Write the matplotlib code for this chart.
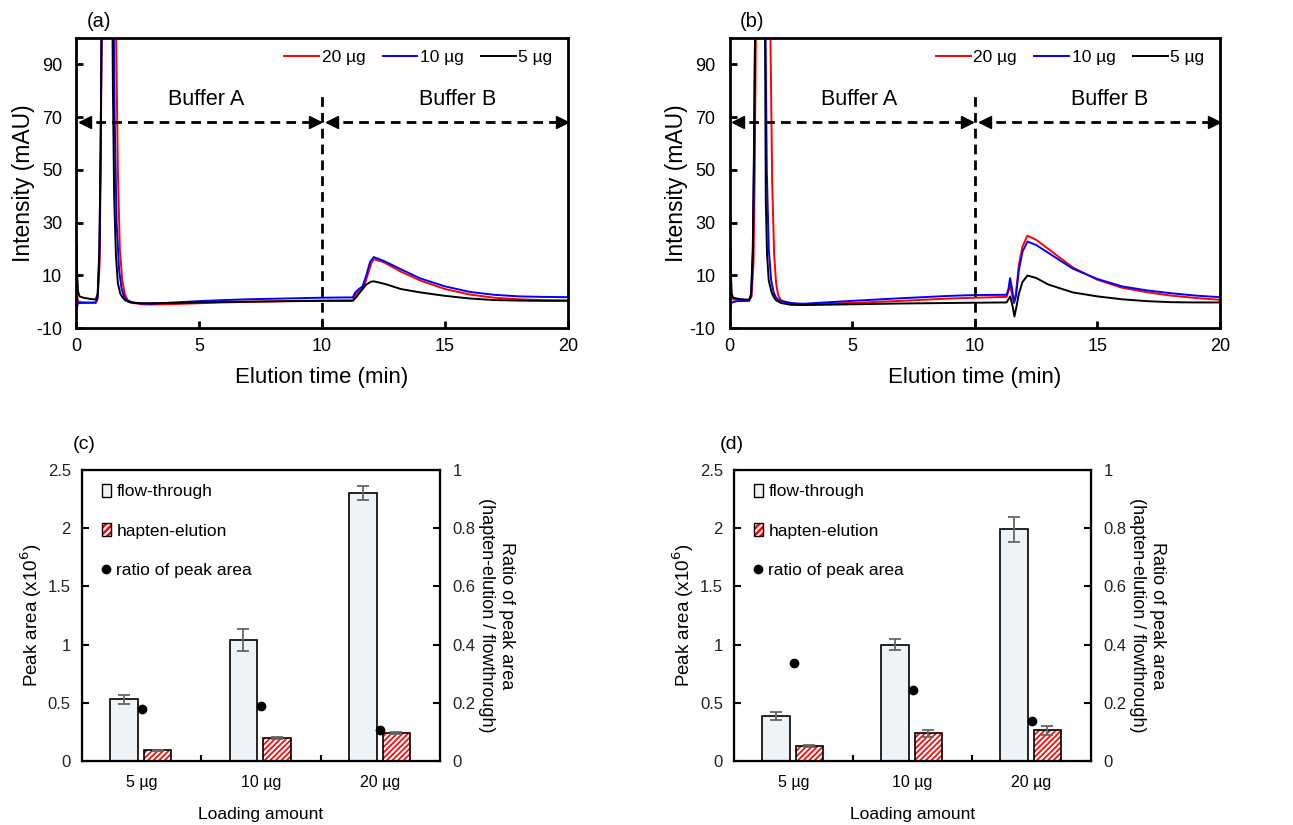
#!/usr/bin/env python3
"""Chromatograms (a)(b) and peak-area bar charts (c)(d) for three loading amounts."""

import matplotlib
matplotlib.use("Agg")
import matplotlib.pyplot as plt
from matplotlib.legend_handler import HandlerTuple
from matplotlib.lines import Line2D
from matplotlib.patches import Patch
from matplotlib.ticker import FuncFormatter

plt.rcParams["font.family"] = ["Liberation Sans", "DejaVu Sans"]
plt.rcParams["axes.unicode_minus"] = False
plt.rcParams["hatch.linewidth"] = 1.6

# ---- chromatogram traces (time in min, intensity in mAU) ----
# panel (a)
a_red_t = [0, 0.04, 0.1, 0.3, 0.8, 0.88, 0.96, 1.0, 1.05, 1.15, 1.35, 1.55, 1.63, 1.7, 1.78,
           1.88, 1.98, 2.1, 2.3, 2.7, 3, 4, 5, 6, 7, 8, 9, 10, 11, 11.25, 11.4, 11.55,
           11.7, 11.85, 12.0, 12.1, 12.5, 13.2, 14, 15, 16, 17, 18, 19, 20]
a_red_v = [0, 2, 0, -0.3, -0.5, 1, 15, 50, 110, 220, 300, 200, 100, 50, 20,
           8, 3, 0.5, -0.5, -1.0, -1.1, -0.9, -0.6, -0.3, -0.1, 0.1, 0.3, 0.4, 0.5, 0.5, 3.0, 4.5,
           5.5, 10, 14.5, 16.1, 15.0, 11.4, 8.0, 4.8, 2.7, 1.5, 0.9, 0.6, 0.5]
a_blue_t = [0, 0.03, 0.06, 0.1, 0.2, 0.5, 0.8, 0.88, 0.95, 1.0, 1.03, 1.1, 1.3, 1.45, 1.52,
            1.57, 1.65, 1.75, 1.85, 1.95, 2.05, 2.3, 2.7, 3, 4, 5, 6, 7, 8, 9, 10, 11, 11.25,
            11.35, 11.5, 11.65, 11.8, 11.95, 12.1, 12.5, 13.2, 14, 15, 16, 17, 18, 19, 20]
a_blue_v = [-1, -3, -1, -0.5, -0.5, -0.4, -0.3, 2, 18, 55, 100, 200, 300, 200, 120,
            70, 30, 12, 5, 2, 0.6, -0.3, -0.7, -0.8, -0.3, 0.2, 0.6, 0.9, 1.1, 1.3, 1.5, 1.6, 1.6,
            3.5, 4.8, 5.8, 10, 15, 16.9, 15.5, 12.3, 8.8, 5.8, 3.7, 2.6, 2.0, 1.8, 1.7]
a_black_t = [0, 0.02, 0.04, 0.08, 0.14, 0.3, 0.6, 0.8, 0.88, 0.95, 1.0, 1.04, 1.1, 1.25, 1.4,
             1.47, 1.5, 1.55, 1.62, 1.7, 1.8, 1.9, 2.0, 2.2, 2.6, 3, 4, 5, 6, 7, 8, 9, 10, 11,
             11.25, 11.4, 11.6, 11.8, 12.0, 12.1, 12.3, 12.6, 13.2, 14, 15, 16, 17, 18, 19, 20]
a_black_v = [5, 22, 12, 4, 2, 1.5, 1.0, 0.8, 3, 20, 60, 100, 200, 300, 200,
             120, 80, 40, 18, 7, 3, 1.5, 0.5, -0.3, -0.6, -0.6, -0.5, -0.3, -0.1, 0, 0.1, 0.2, 0.3, 0.3,
             0.3, 1.8, 4.2, 6.5, 7.6, 7.7, 7.3, 6.6, 4.8, 3.5, 2.2, 1.2, 0.6, 0.4, 0.3, 0.3]

# panel (b)
b_red_t = [0, 0.03, 0.07, 0.15, 0.5, 0.8, 0.9, 0.98, 1.03, 1.08, 1.2, 1.4, 1.6, 1.67, 1.74,
           1.82, 1.9, 1.98, 2.1, 2.5, 3, 5, 7, 9, 10, 11.3, 11.44, 11.6, 11.68, 11.8, 11.95,
           12.15, 12.5, 13, 14, 15, 16, 17, 18, 19, 20]
b_red_v = [0, 12, 3, 0.8, 0.6, 0.5, 2, 15, 50, 110, 250, 300, 180, 100, 45,
           18, 7, 2.5, 0.5, -0.7, -1.0, -0.5, 0.3, 1.2, 1.5, 1.8, 6, 0, 3, 14, 21,
           25, 23.5, 20, 13, 8.3, 5.3, 3.6, 2.3, 1.4, 0.7]
b_blue_t = [0, 0.03, 0.06, 0.1, 0.3, 0.8, 0.88, 0.95, 1.0, 1.04, 1.1, 1.3, 1.42, 1.47, 1.52,
            1.6, 1.7, 1.8, 1.9, 2.0, 2.2, 2.6, 3, 5, 7, 9, 10, 11.3, 11.38, 11.44, 11.52, 11.6,
            11.68, 11.8, 11.95, 12.15, 12.5, 13, 14, 15, 16, 17, 18, 19, 20]
b_blue_v = [-1, -2.5, -1, -0.3, 0.2, 0.3, 2, 18, 55, 100, 200, 300, 200, 100, 50,
            20, 8, 3.5, 1.5, 0.7, 0, -0.6, -0.8, 0.3, 1.3, 2.2, 2.5, 2.6, 5, 8.9, 5, -0.5,
            2, 12, 19, 22.8, 21.5, 18.5, 12.5, 8.6, 5.8, 4.3, 3.2, 2.3, 1.7]
b_black_t = [0, 0.03, 0.05, 0.09, 0.15, 0.4, 0.8, 0.88, 0.95, 1.0, 1.04, 1.1, 1.25, 1.4, 1.45,
             1.48, 1.53, 1.6, 1.72, 1.82, 1.9, 2.1, 2.5, 3, 5, 7, 9, 10, 11.3, 11.45, 11.55,
             11.62, 11.7, 11.8, 11.95, 12.15, 12.5, 13, 14, 15, 16, 17, 18, 19, 20]
b_black_v = [5, 21, 12, 3, 1.5, 1.0, 0.7, 3, 20, 60, 100, 200, 300, 200, 100,
             38, 18, 8, 3.4, 1.5, 0.5, -0.5, -1.2, -1.3, -1.0, -0.7, -0.5, -0.4, -0.3, 2.0, -2,
             -5.6, -2, 3, 7.5, 9.9, 9.0, 6.5, 3.5, 2.0, 0.9, 0.2, -0.2, -0.3, -0.3]

trace_labels = ["20 µg", "10 µg", "5 µg"]
trace_colors = ["#ff0000", "#0000ff", "#000000"]
buffer_labels = ["Buffer A", "Buffer B"]

# ---- peak areas (x10^6) and ratio ----
categories = ["5 µg", "10 µg", "20 µg"]
c_flow = [0.53, 1.04, 2.30]
c_flow_err = [0.037, 0.095, 0.06]
c_hapten = [0.092, 0.195, 0.24]
c_hapten_err = [0.005, 0.01, 0.005]
c_ratio = [0.18, 0.189, 0.105]

d_flow = [0.385, 1.0, 1.99]
d_flow_err = [0.034, 0.05, 0.11]
d_hapten = [0.126, 0.24, 0.264]
d_hapten_err = [0.007, 0.03, 0.037]
d_ratio = [0.338, 0.245, 0.138]

DASH = (0, (3.5, 2.2))


def plot_chromatogram(fig, rect, traces, tag):
    ax = fig.add_axes(rect)
    for (t, v), lab, col in zip(traces, trace_labels, trace_colors):
        ax.plot(t, v, color=col, lw=1.4, label=lab)
    ax.set_xlim(0, 20)
    ax.set_ylim(-10, 100)
    ax.set_xticks([0, 5, 10, 15, 20])
    ax.set_yticks([-10, 10, 30, 50, 70, 90])
    ax.tick_params(axis="x", direction="in", length=5, width=2, labelsize=13, pad=7)
    ax.tick_params(axis="y", direction="in", length=5, width=2, labelsize=13, pad=10)
    for s in ax.spines.values():
        s.set_linewidth(2)
    ax.set_xlabel("Elution time (min)", fontsize=16, labelpad=9)
    ax.set_ylabel("Intensity (mAU)", fontsize=16.5, labelpad=1)

    # buffer annotations: dashed double arrows and the switch line at 10 min
    ax.plot([10, 10], [-10, 79], color="black", lw=2, ls=DASH)
    for (x0, x1), xt, txt in zip([(0.15, 9.9), (10.2, 19.95)], [5.3, 15.5], buffer_labels):
        ax.plot([x0, x1], [68, 68], color="black", lw=2, ls=DASH)
        ax.plot([x0 + 0.2], [68], marker="<", color="black", ms=8.5)
        ax.plot([x1 - 0.2], [68], marker=">", color="black", ms=8.5)
        ax.text(xt, 76.5, txt, ha="center", va="center", fontsize=15.5)

    ax.legend(loc="upper right", ncol=3, frameon=False, fontsize=12.5,
              handlelength=2.0, columnspacing=1.0, handletextpad=0.15,
              bbox_to_anchor=(1.0, 1.012))
    fig.text(rect[0] + 0.0175, rect[1] + rect[3] + 0.0205, tag, ha="center", va="center", fontsize=14.5)
    return ax


def plot_bars(fig, rect, flow, flow_err, hapten, hapten_err, ratio, tag, tag_dx):
    ax = fig.add_axes(rect)
    x = range(len(categories))
    w = 0.23
    xf = [i - 0.147 for i in x]
    xh = [i + 0.134 for i in x]
    ax.bar(xf, flow, w, color="#eef3f8", edgecolor="black", lw=1.2, zorder=2)
    ax.errorbar(xf, flow, yerr=flow_err, fmt="none", ecolor="#666666", elinewidth=1.3,
                capsize=4, capthick=1.3, zorder=3)
    ax.bar(xh, hapten, w, color="#ff0000", edgecolor="white", hatch="//////", lw=0, zorder=2)
    ax.bar(xh, hapten, w, fill=False, edgecolor="black", lw=1.2, zorder=2)
    ax.errorbar(xh, hapten, yerr=hapten_err, fmt="none", ecolor="#666666", elinewidth=1.3,
                capsize=4, capthick=1.3, zorder=3)

    ax.set_xlim(-0.5, 2.5)
    ax.set_ylim(0, 2.5)
    ax.set_yticks([0, 0.5, 1, 1.5, 2, 2.5])
    ax.yaxis.set_major_formatter(FuncFormatter(lambda v, p: f"{v:g}"))
    ax.set_xticks([0.5, 1.5])
    ax.set_xticklabels(["", ""])
    ax.set_xticks(list(x), minor=True)
    ax.set_xticklabels(categories, minor=True)
    ax.tick_params(axis="x", which="minor", length=0, labelsize=11.5, pad=10)
    ax.tick_params(axis="x", which="major", direction="in", length=4, width=1.5)
    ax.tick_params(axis="y", direction="in", length=5, width=1.5, labelsize=12, pad=8,
                   labelcolor="#222222")
    for s in ax.spines.values():
        s.set_linewidth(1.6)
    ax.set_xlabel("Loading amount", fontsize=12.5, labelpad=12)
    ax.set_ylabel("Peak area (x10$^{6}$)", fontsize=13.5, labelpad=3)

    ax2 = ax.twinx()
    ax2.plot(list(x), ratio, "o", color="black", ms=6, zorder=4)
    ax2.set_ylim(0, 1)
    ax2.set_yticks([0, 0.2, 0.4, 0.6, 0.8, 1])
    ax2.yaxis.set_major_formatter(FuncFormatter(lambda v, p: f"{v:g}"))
    ax2.tick_params(axis="y", direction="in", length=5, width=1.5, labelsize=12, pad=9,
                    labelcolor="#222222")
    ax2.set_ylabel("Ratio of peak area\n(hapten-elution / flowthrough)", fontsize=13,
                   rotation=270, labelpad=28, linespacing=1.2)

    h_flow = Patch(facecolor="#eef3f8", edgecolor="black", lw=1.0)
    h_hap = (Patch(facecolor="#ff0000", edgecolor="white", hatch="/////", lw=0),
             Patch(fill=False, edgecolor="black", lw=1.0))
    h_dot = Line2D([], [], ls="none", marker="o", color="black", ms=6)
    ax.legend([h_flow, h_hap, h_dot], ["flow-through", "hapten-elution", "ratio of peak area"],
              handler_map={tuple: HandlerTuple(ndivide=1)}, loc="upper left",
              bbox_to_anchor=(0.055, 0.952), frameon=False, fontsize=12.5, handlelength=0.55,
              handleheight=0.75, handletextpad=0.3, labelspacing=1.38, borderaxespad=0,
              borderpad=0)
    fig.text(rect[0] + tag_dx, rect[1] + rect[3] + 0.031, tag, ha="center", va="center", fontsize=14)
    return ax


def main():
    fig = plt.figure(figsize=(12.93, 8.25), dpi=100)

    plot_chromatogram(fig, [0.0588, 0.6024, 0.3805, 0.3516],
                      [(a_red_t, a_red_v), (a_blue_t, a_blue_v), (a_black_t, a_black_v)], "(a)")
    plot_chromatogram(fig, [0.5642, 0.6024, 0.3793, 0.3516],
                      [(b_red_t, b_red_v), (b_blue_t, b_blue_v), (b_black_t, b_black_v)], "(b)")

    plot_bars(fig, [0.0634, 0.0776, 0.2769, 0.3527],
              c_flow, c_flow_err, c_hapten, c_hapten_err, c_ratio, "(c)", 0.0015)
    plot_bars(fig, [0.5677, 0.0776, 0.2761, 0.3527],
              d_flow, d_flow_err, d_hapten, d_hapten_err, d_ratio, "(d)", -0.002)

    fig.savefig("out.png", dpi=100)
    plt.close(fig)


if __name__ == "__main__":
    main()
